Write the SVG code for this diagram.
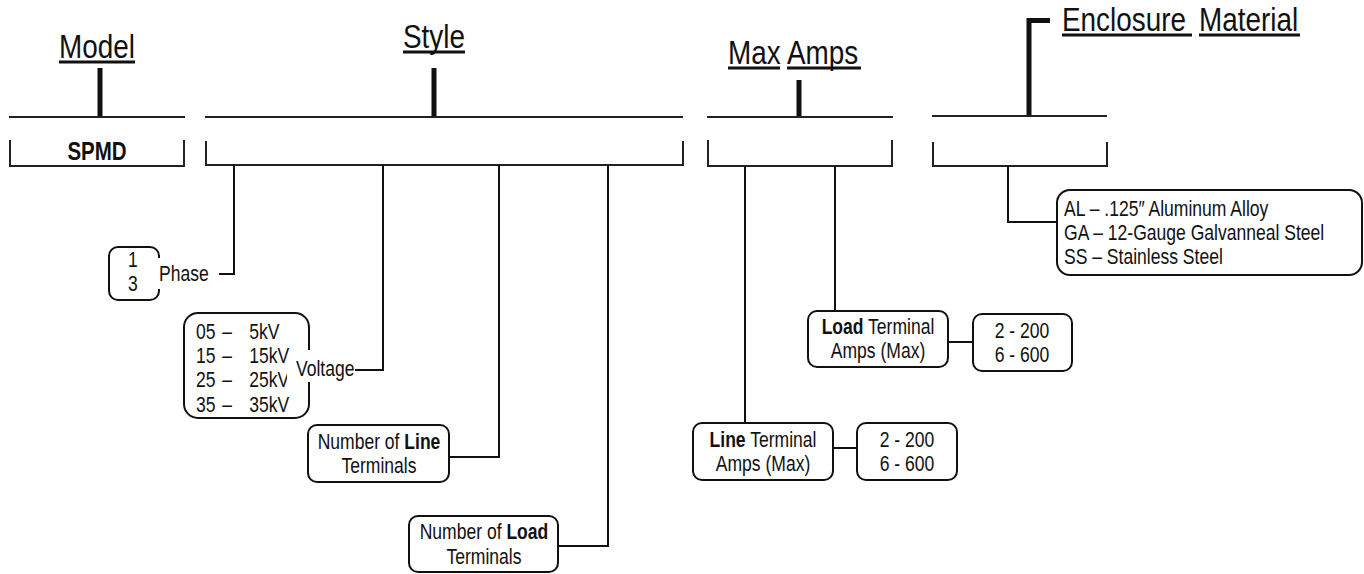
<svg xmlns="http://www.w3.org/2000/svg" width="1364" height="574" viewBox="0 0 1364 574">
<style>
text{font-family:"Liberation Sans Narrow","Arial Narrow","Liberation Sans",sans-serif;fill:#111}
.title{font-size:34px}
.t{font-size:21.4px}
.b{font-weight:bold}
.m{text-anchor:middle}
.ul{stroke:#111;stroke-width:3}
.hl{stroke:#222;stroke-width:2;fill:none}
.bar{stroke:#111;stroke-width:5;fill:none}
.br{stroke:#222;stroke-width:2;fill:none}
.box{stroke:#111;stroke-width:2;fill:#fff}
.con{stroke:#111;stroke-width:2;fill:none}
.wb{fill:#fff}
</style>
<g id="model">
<text class="title m" transform="translate(97 58) scale(0.82 1)">Model</text>
<line class="ul" x1="59" y1="62" x2="135" y2="62"/>
<line class="bar" x1="100" y1="68" x2="100" y2="117"/>
<line class="hl" x1="9" y1="117" x2="185" y2="117"/>
<path class="br" d="M10 140V166H184V140"/>
<text class="b m" font-size="25" transform="translate(97 160) scale(0.82 1)">SPMD</text>
</g>
<g id="style">
<text class="title m" transform="translate(434 48) scale(0.82 1)">Style</text>
<line class="ul" x1="403" y1="52" x2="465" y2="52"/>
<line class="bar" x1="434" y1="68" x2="434" y2="117"/>
<line class="hl" x1="205" y1="117" x2="683" y2="117"/>
<path class="br" d="M206 141V165H683V141"/>
</g>
<g id="maxamps">
<text class="title" transform="translate(728 64) scale(0.82 1)">Max</text>
<text class="title" transform="translate(787 64) scale(0.82 1)">Amps</text>
<line class="ul" x1="728" y1="68" x2="780" y2="68"/>
<line class="ul" x1="787" y1="68" x2="861" y2="68"/>
<line class="bar" x1="799" y1="80" x2="799" y2="117"/>
<line class="hl" x1="707" y1="117" x2="893" y2="117"/>
<path class="br" d="M708 140V166H892V140"/>
</g>
<g id="enclosure">
<text class="title" transform="translate(1062 31) scale(0.82 1)">Enclosure</text>
<text class="title" transform="translate(1199 31) scale(0.82 1)">Material</text>
<line class="ul" x1="1062" y1="35" x2="1192" y2="35"/>
<line class="ul" x1="1199" y1="35" x2="1300" y2="35"/>
<path class="bar" d="M1029 116V20.5H1050"/>
<line class="hl" x1="932" y1="116" x2="1107" y2="116"/>
<path class="br" d="M933 142V166H1107V142"/>
</g>
<g id="connectors">
<path class="con" d="M219 274H234V165"/>
<path class="con" d="M354 370H383V165"/>
<path class="con" d="M449 457H499V165"/>
<path class="con" d="M558 546H608V165"/>
<path class="con" d="M745 166V423"/>
<path class="con" d="M835 166V311"/>
<path class="con" d="M833 448H857"/>
<path class="con" d="M948 342H973"/>
<path class="con" d="M1008 166V222H1057"/>
</g>
<g id="phase">
<rect class="box" x="109" y="247" width="50" height="53" rx="9"/>
<text class="t m" transform="translate(133 267) scale(0.82 1)">1</text>
<text class="t m" transform="translate(133 291) scale(0.82 1)">3</text>
<rect class="wb" x="156" y="258" width="56" height="31"/>
<text class="t" transform="translate(159 281) scale(0.82 1)">Phase</text>
</g>
<g id="voltage">
<rect class="box" x="184" y="313" width="125" height="105" rx="14"/>
<text class="t" transform="translate(196 339) scale(0.82 1)">05<tspan x="32">–</tspan><tspan x="65">5kV</tspan></text>
<text class="t" transform="translate(196 363) scale(0.82 1)">15<tspan x="32">–</tspan><tspan x="65">15kV</tspan></text>
<text class="t" transform="translate(196 387) scale(0.82 1)">25<tspan x="32">–</tspan><tspan x="65">25kV</tspan></text>
<text class="t" transform="translate(196 412) scale(0.82 1)">35<tspan x="32">–</tspan><tspan x="65">35kV</tspan></text>
<rect class="wb" x="289" y="350" width="66" height="32"/>
<rect class="wb" x="287" y="370" width="10" height="20"/>
<text class="t" transform="translate(296 376) scale(0.82 1)">Voltage</text>
</g>
<g id="line-terminals">
<rect class="box" x="308" y="425" width="141" height="57" rx="9"/>
<text class="t m" transform="translate(379 449) scale(0.82 1)">Number of <tspan class="b">Line</tspan></text>
<text class="t m" transform="translate(379 473) scale(0.82 1)">Terminals</text>
</g>
<g id="load-terminals">
<rect class="box" x="409" y="516" width="149" height="56" rx="9"/>
<text class="t m" transform="translate(484 539) scale(0.82 1)">Number of <tspan class="b">Load</tspan></text>
<text class="t m" transform="translate(484 564) scale(0.82 1)">Terminals</text>
</g>
<g id="line-amps">
<rect class="box" x="693" y="423" width="140" height="57" rx="9"/>
<text class="t m" transform="translate(763 447) scale(0.82 1)"><tspan class="b">Line</tspan> Terminal</text>
<text class="t m" transform="translate(763 471) scale(0.82 1)">Amps (Max)</text>
</g>
<g id="line-amps-values">
<rect class="box" x="857" y="423" width="100" height="57" rx="9"/>
<text class="t m" transform="translate(907 447) scale(0.82 1)">2 - 200</text>
<text class="t m" transform="translate(907 471) scale(0.82 1)">6 - 600</text>
</g>
<g id="load-amps">
<rect class="box" x="808" y="311" width="140" height="56" rx="9"/>
<text class="t m" transform="translate(878 334) scale(0.82 1)"><tspan class="b">Load</tspan> Terminal</text>
<text class="t m" transform="translate(878 358) scale(0.82 1)">Amps (Max)</text>
</g>
<g id="load-amps-values">
<rect class="box" x="973" y="314" width="99" height="57" rx="9"/>
<text class="t m" transform="translate(1022 338) scale(0.82 1)">2 - 200</text>
<text class="t m" transform="translate(1022 362) scale(0.82 1)">6 - 600</text>
</g>
<g id="material">
<rect class="box" x="1057" y="190" width="305" height="85" rx="13"/>
<text class="t" transform="translate(1064 216) scale(0.82 1)">AL – .125″ Aluminum Alloy</text>
<text class="t" transform="translate(1064 240) scale(0.82 1)">GA – 12-Gauge Galvanneal Steel</text>
<text class="t" transform="translate(1064 264) scale(0.82 1)">SS – Stainless Steel</text>
</g>
</svg>
